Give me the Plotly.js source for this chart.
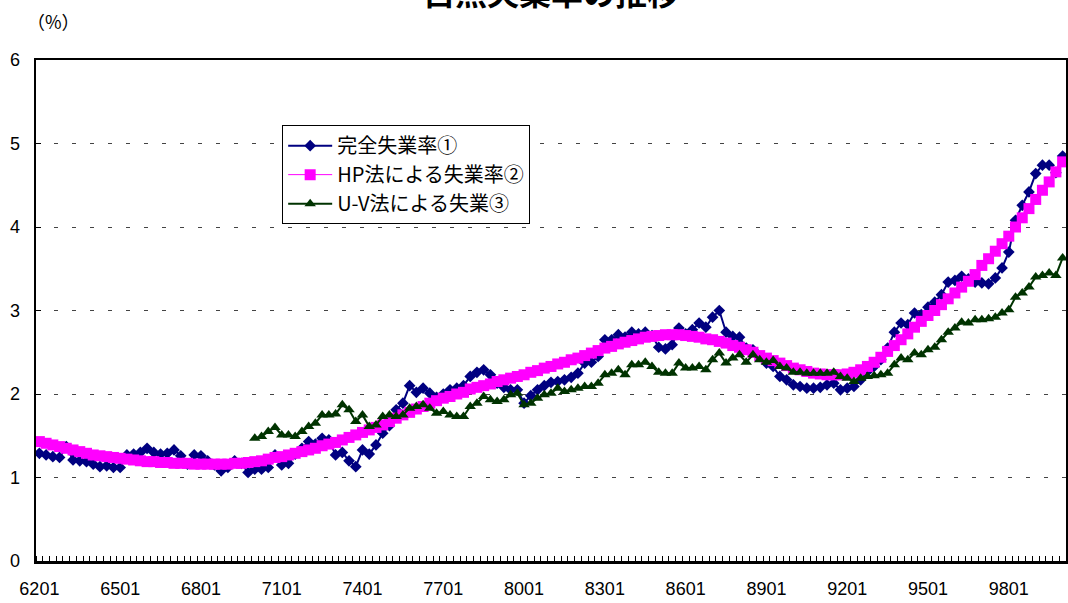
<!DOCTYPE html>
<html><head><meta charset="utf-8">
<script src="https://cdn.plot.ly/plotly-3.0.1.min.js"></script>
<style>html,body{margin:0;padding:0;background:#fff}#chart{width:1068px;height:603px}</style>
</head><body><div id="chart"></div>
<script>
// quarterly categories 6201 ... 0001
const quarters = [];
for (let y = 62; y <= 99; y++) for (let q = 1; q <= 4; q++) quarters.push(String(y) + '0' + q);
quarters.push('0001');

const tickLabels = ['6201','6501','6801','7101','7401','7701','8001','8301','8601','8901','9201','9501','9801'];

const kanzen = [
1.29,1.27,1.25,1.24,1.37,1.21,1.20,1.19,1.16,1.13,
1.14,1.12,1.12,1.27,1.28,1.30,1.35,1.30,1.28,1.29,
1.33,1.26,1.16,1.27,1.26,1.20,1.15,1.08,1.12,1.20,
1.17,1.06,1.10,1.10,1.12,1.27,1.15,1.17,1.28,1.35,
1.43,1.40,1.47,1.45,1.27,1.30,1.20,1.13,1.33,1.28,
1.39,1.53,1.62,1.81,1.89,2.10,2.02,2.07,2.01,1.96,
2.00,2.05,2.07,2.10,2.21,2.26,2.29,2.23,2.13,2.08,
2.05,2.05,1.89,1.98,2.05,2.10,2.14,2.15,2.17,2.20,
2.25,2.37,2.38,2.45,2.65,2.65,2.71,2.68,2.74,2.72,
2.74,2.70,2.56,2.54,2.59,2.79,2.72,2.77,2.85,2.80,
2.92,3.00,2.74,2.69,2.68,2.55,2.53,2.45,2.37,2.33,
2.21,2.17,2.11,2.09,2.07,2.07,2.08,2.11,2.13,2.05,
2.07,2.09,2.17,2.27,2.33,2.41,2.55,2.74,2.85,2.83,
2.97,2.95,3.04,3.10,3.19,3.34,3.36,3.41,3.38,3.34,
3.33,3.32,3.39,3.51,3.70,4.08,4.26,4.42,4.64,4.74,
4.74,4.65,4.85];

const hpRate = [
1.43,1.41,1.39,1.37,1.35,1.33,1.31,1.29,1.27,1.26,
1.25,1.24,1.23,1.22,1.21,1.20,1.19,1.19,1.18,1.18,
1.17,1.17,1.17,1.16,1.16,1.16,1.16,1.16,1.16,1.17,
1.17,1.18,1.19,1.20,1.22,1.24,1.25,1.27,1.29,1.31,
1.33,1.35,1.38,1.40,1.42,1.45,1.48,1.51,1.54,1.57,
1.60,1.63,1.67,1.71,1.75,1.78,1.82,1.85,1.89,1.92,
1.95,1.97,2.00,2.02,2.06,2.08,2.10,2.12,2.15,2.17,
2.19,2.21,2.23,2.26,2.28,2.31,2.33,2.36,2.38,2.41,
2.43,2.46,2.49,2.52,2.55,2.57,2.60,2.62,2.64,2.66,
2.68,2.69,2.70,2.71,2.71,2.71,2.70,2.69,2.68,2.66,
2.65,2.63,2.61,2.58,2.56,2.53,2.50,2.46,2.43,2.40,
2.37,2.34,2.31,2.29,2.27,2.25,2.24,2.23,2.23,2.23,
2.24,2.26,2.29,2.33,2.38,2.44,2.51,2.58,2.65,2.72,
2.80,2.87,2.94,3.00,3.07,3.14,3.21,3.28,3.35,3.43,
3.54,3.62,3.71,3.80,3.89,4.00,4.11,4.22,4.33,4.44,
4.54,4.66,4.78];

const uvRate = [
null,null,null,null,null,null,null,null,null,null,
null,null,null,null,null,null,null,null,null,null,
null,null,null,null,null,null,null,null,null,null,
null,null,
1.47,1.49,1.55,1.60,1.51,1.51,1.49,1.55,1.61,1.65,
1.75,1.75,1.76,1.87,1.81,1.67,1.75,1.61,1.63,1.73,
1.75,1.73,1.75,1.83,1.85,1.87,1.83,1.77,1.79,1.75,
1.73,1.73,1.85,1.89,1.97,1.93,1.91,1.93,1.99,2.01,
1.87,1.89,1.95,1.99,2.01,2.07,2.03,2.05,2.07,2.09,
2.09,2.13,2.23,2.25,2.29,2.23,2.35,2.35,2.38,2.33,
2.26,2.25,2.25,2.37,2.31,2.31,2.33,2.29,2.41,2.49,
2.37,2.43,2.47,2.38,2.47,2.41,2.38,2.40,2.33,2.31,
2.26,2.26,2.25,2.25,2.25,2.25,2.26,2.21,2.19,2.15,
2.19,2.21,2.22,2.23,2.25,2.35,2.43,2.41,2.49,2.47,
2.53,2.56,2.65,2.74,2.79,2.86,2.85,2.89,2.89,2.90,
2.92,2.97,3.01,3.16,3.21,3.28,3.40,3.42,3.45,3.42,
3.63];

const seriesNames = ['完全失業率①', 'HP法による失業率②', 'U-V法による失業③'];

const xIdx = quarters.map((_, i) => i);
const tickVals = tickLabels.map(t => quarters.indexOf(t));

const traces = [
  {x: xIdx, y: kanzen, name: seriesNames[0], type: 'scatter', mode: 'lines+markers',
   line: {color: '#000080', width: 2}, marker: {symbol: 'diamond', size: 9, color: '#000080'}},
  {x: xIdx, y: hpRate, name: seriesNames[1], type: 'scatter', mode: 'lines+markers',
   line: {color: '#FF00FF', width: 1}, marker: {symbol: 'square', size: 11, color: '#FF00FF'}},
  {x: xIdx, y: uvRate, name: seriesNames[2], type: 'scatter', mode: 'lines+markers', connectgaps: false,
   line: {color: '#003300', width: 2}, marker: {symbol: 'triangle-up', size: 10, color: '#003300'}}
];

const layout = {
  width: 1068, height: 603,
  margin: {l: 36, r: 2, t: 60, b: 42},
  paper_bgcolor: '#fff', plot_bgcolor: '#fff',
  showlegend: true,
  font: {family: 'Liberation Sans, Arial, sans-serif', color: '#000'},
  xaxis: {
    range: [-0.5, quarters.length - 0.5],
    tickmode: 'array', tickvals: tickVals, ticktext: tickLabels,
    ticks: '', showgrid: false, zeroline: false,
    showline: true, linecolor: '#000', linewidth: 2.5, mirror: true,
    tickfont: {size: 18, color: '#000'},
    ticklabelstandoff: 10,
    minor: {tickmode: 'linear', tick0: -0.5, dtick: 1, ticks: 'inside', ticklen: 5, tickwidth: 1, tickcolor: '#000', showgrid: false}
  },
  yaxis: {
    range: [0, 6], tickmode: 'linear', tick0: 0, dtick: 1,
    ticks: 'inside', ticklen: 5, tickcolor: '#000',
    showgrid: true, gridcolor: '#444', gridwidth: 1, griddash: '4px,14px',
    zeroline: false, showline: true, linecolor: '#000', linewidth: 2.5, mirror: true,
    tickfont: {size: 18, color: '#000'},
    ticklabelstandoff: 10
  },
  legend: {
    x: 0.239, y: 0.870, xanchor: 'left', yanchor: 'top',
    bgcolor: '#fff', bordercolor: '#000', borderwidth: 1,
    font: {family: 'Noto Sans CJK JP, sans-serif', size: 20, color: '#000'},
    tracegroupgap: 0, itemwidth: 44
  },
  annotations: [
    {text: '<b>自然失業率の推移</b>', xref: 'paper', yref: 'paper', x: 0.5, y: 1.137,
     xanchor: 'center', yanchor: 'middle', showarrow: false,
     font: {family: 'Noto Sans CJK JP, sans-serif', size: 32, color: '#000'}},
    {text: '（%）', xref: 'paper', yref: 'paper', x: 0.017, y: 1.078,
     xanchor: 'center', yanchor: 'middle', showarrow: false,
     font: {family: 'Noto Sans CJK JP, sans-serif', size: 18, color: '#000'}}
  ]
};

Plotly.newPlot('chart', traces, layout, {displayModeBar: false, staticPlot: true});
</script>
</body></html>
